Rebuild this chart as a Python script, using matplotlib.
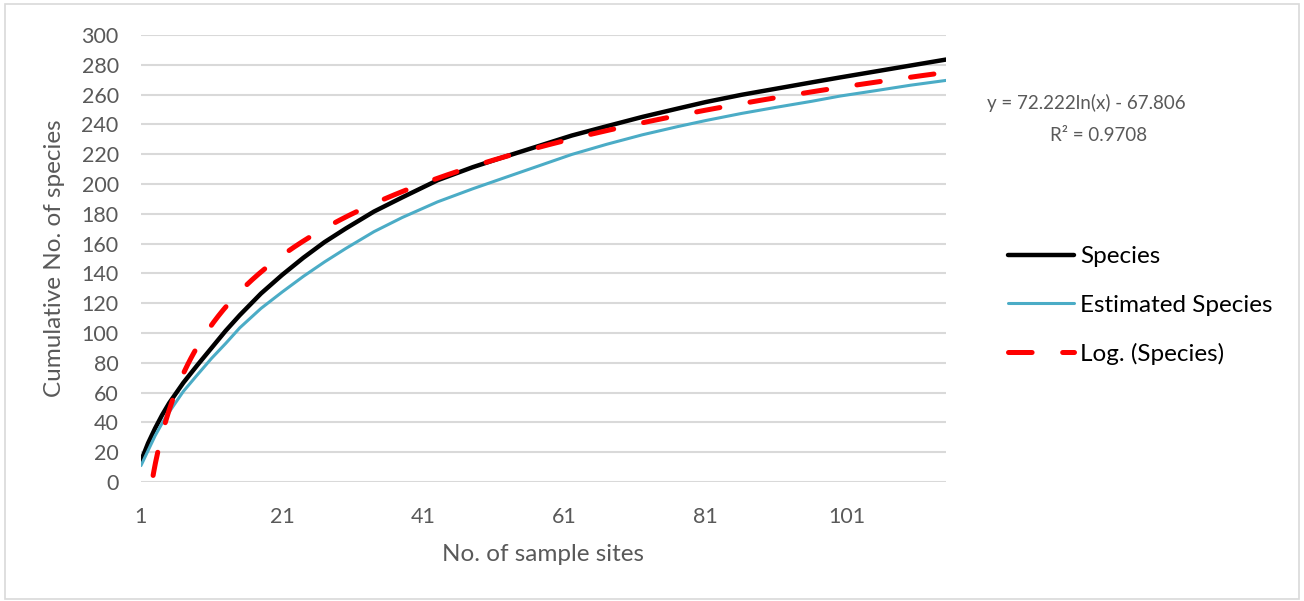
import matplotlib.pyplot as plt
import numpy as np
from matplotlib.lines import Line2D
from matplotlib.patches import Rectangle

# sample site numbers where the curves were read
sites = [1, 2, 3, 4, 5, 7, 9, 11, 13, 15, 18, 21, 24, 27, 30, 34, 38, 43, 48,
         52, 57, 62, 67, 72, 77, 81, 86, 91, 96, 100, 105, 110, 115]
species = [14, 26, 36, 45, 53, 66.6, 78.5, 90, 101.5, 112, 126.5, 139, 150.5, 161,
           170.1, 181.5, 191, 202.5, 211.3, 217.5, 225, 232.5, 238.8, 245, 250.6,
           255, 259.8, 264, 268.2, 271.5, 275.5, 279.5, 283.5]
estimated = [11, 21, 31, 39.5, 47, 60.8, 72, 83, 93, 103.5, 116.5, 127.5, 138,
             147.7, 156.7, 168, 177.5, 188, 196.8, 203.4, 211.6, 219.8, 226.7, 233,
             238.5, 242.6, 247.3, 251.5, 255.5, 259, 262.6, 266.3, 269.5]

# log trendline shown on the chart
fit_a = 72.222
fit_b = -67.806
r2 = 0.9708

xticks = [1, 21, 41, 61, 81, 101]
yticks = list(range(0, 301, 20))

TEAL = '#4BACC6'
GRAY = '#595959'


def plotCurves():
    plt.rcParams['font.family'] = ['Lato', 'DejaVu Sans']
    plt.rcParams['lines.scale_dashes'] = False
    fig = plt.figure(figsize=(13.04, 6.01), dpi=100)
    fig.patches.append(Rectangle((0.004, 0.004), 0.992, 0.99, transform=fig.transFigure,
                                 fill=False, edgecolor='#D9D9D9', lw=1.2))
    ax = fig.add_axes([0.1081, 0.198, 0.6173, 0.7438])

    ax.plot(sites, species, color='black', lw=3.2, solid_capstyle='round',
            solid_joinstyle='round', zorder=3)
    ax.plot(sites, estimated, color=TEAL, lw=2.2, solid_capstyle='round',
            solid_joinstyle='round', zorder=3)
    xs = np.linspace(1, sites[-1], 500)
    ax.plot(xs, fit_a * np.log(xs) + fit_b, color='red', lw=3.6,
            dashes=(17, 22), dash_capstyle='round', zorder=4)

    ax.set_xlim(1, sites[-1])
    ax.set_ylim(0, 300)
    ax.set_xticks(xticks)
    ax.set_yticks(yticks)
    ax.tick_params(length=0, labelsize=15.5, colors=GRAY)
    ax.tick_params(axis='y', pad=16)
    ax.tick_params(axis='x', pad=18)
    ax.grid(axis='y', color='#D9D9D9', lw=1.5)
    ax.set_axisbelow(True)
    for s in ax.spines.values():
        s.set_visible(False)

    ax.set_xlabel("No. of sample sites", fontsize=17.5, color=GRAY, labelpad=12)
    ax.set_ylabel("Cumulative No. of species", fontsize=17.5, color=GRAY, labelpad=12)

    # trendline label
    fig.text(0.8332, 0.829, f"y = {fit_a:.3f}ln(x) - {abs(fit_b):.3f}",
             ha='center', va='center', fontsize=13.5, color=GRAY)
    fig.text(0.8424, 0.774, f"R² = {r2}",
             ha='center', va='center', fontsize=13.5, color=GRAY)

    handles = [Line2D([], [], color='black', lw=3.2, solid_capstyle='round'),
               Line2D([], [], color=TEAL, lw=2.2, solid_capstyle='round'),
               Line2D([], [], color='red', lw=3.6, dashes=(17, 22), dash_capstyle='round')]
    fig.legend(handles, ['Species', 'Estimated Species', 'Log. (Species)'],
               loc='upper left', bbox_to_anchor=(0.773, 0.590), frameon=False,
               fontsize=17.5, handlelength=2.72, handletextpad=0.25, labelspacing=1.12,
               borderaxespad=0, borderpad=0)

    plt.savefig("out.png", format="PNG")


if __name__ == '__main__':
    plotCurves()
